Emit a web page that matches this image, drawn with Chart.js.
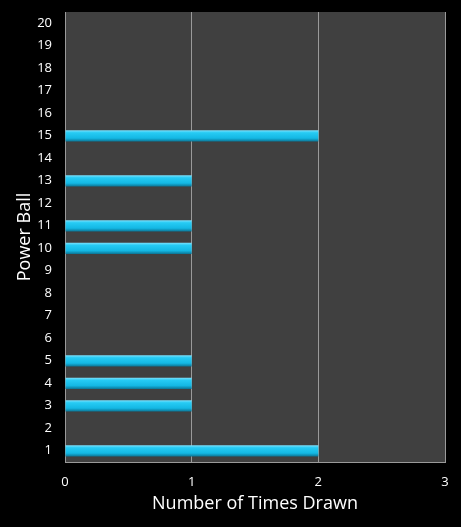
<!DOCTYPE html>
<html>
<head>
<meta charset="utf-8">
<script src="https://cdn.jsdelivr.net/npm/chart.js@4/dist/chart.umd.min.js"></script>
<style>
  html, body { margin: 0; padding: 0; background: #000; }
  #wrap { width: 461px; height: 527px; }
</style>
</head>
<body>
<div id="wrap"><canvas id="ballChart"></canvas></div>
<script>
const balls = ["1","2","3","4","5","6","7","8","9","10","11","12","13","14","15","16","17","18","19","20"];
const timesDrawn = [2, 0, 1, 1, 1, 0, 0, 0, 0, 1, 1, 0, 1, 0, 2, 0, 0, 0, 0, 0];
const xTicks = [0, 1, 2, 3];

// fond gris de la zone de tracé
const plotBg = {
  id: "plotBg",
  beforeDraw(chart) {
    const { ctx, chartArea: a } = chart;
    ctx.save();
    ctx.fillStyle = "#000";
    ctx.fillRect(0, 0, chart.width, chart.height);
    ctx.fillStyle = "#404040";
    ctx.fillRect(a.left, a.top, a.right - a.left, a.bottom - a.top);
    ctx.restore();
  }
};

function barFill(context) {
  const chart = context.chart;
  if (!chart.chartArea) return "#1ec8f0";
  const y = chart.scales.y.getPixelForValue(context.dataIndex);
  const g = chart.ctx.createLinearGradient(0, y - 6, 0, y + 6);
  g.addColorStop(0, "#8ee6ff");
  g.addColorStop(0.25, "#26cbf4");
  g.addColorStop(0.7, "#14b8e4");
  g.addColorStop(1, "#0a6f8e");
  return g;
}

const ctx = document.getElementById("ballChart").getContext("2d");
new Chart(ctx, {
  type: "bar",
  data: {
    labels: balls,
    datasets: [{
      label: "Times Drawn",
      data: timesDrawn,
      backgroundColor: barFill,
      borderWidth: 0,
      categoryPercentage: 1,
      barPercentage: 0.5
    }]
  },
  options: {
    indexAxis: "y",
    responsive: true,
    maintainAspectRatio: false,
    animation: false,
    layout: { padding: { left: 0, right: 16, top: 12, bottom: 0 } },
    plugins: {
      legend: { display: false },
      tooltip: { enabled: false }
    },
    scales: {
      x: {
        min: 0,
        max: 3,
        afterBuildTicks(scale) { scale.ticks = xTicks.map(v => ({ value: v })); },
        afterFit(scale) { scale.height = 65; },
        grid: { color: "#9a9a9a", lineWidth: 1, drawTicks: false },
        border: { color: "#9a9a9a" },
        ticks: { color: "#fff", padding: 12, font: { family: "Open Sans", size: 13 } },
        title: {
          display: true,
          text: "Number of Times Drawn",
          color: "#fff",
          padding: { top: 4, bottom: 12 },
          font: { family: "Open Sans", size: 18 }
        }
      },
      y: {
        reverse: true,
        afterFit(scale) {
          scale.width = 65;
          scale.paddingTop = 0;
          scale.paddingBottom = 0;
        },
        grid: { display: false, drawTicks: false },
        border: { color: "#9a9a9a" },
        ticks: { color: "#fff", padding: 13, autoSkip: false, font: { family: "Open Sans", size: 13 } },
        title: {
          display: true,
          text: "Power Ball",
          color: "#fff",
          padding: { top: 14, bottom: 4 },
          font: { family: "Open Sans", size: 18 }
        }
      }
    }
  },
  plugins: [plotBg]
});
</script>
</body>
</html>
